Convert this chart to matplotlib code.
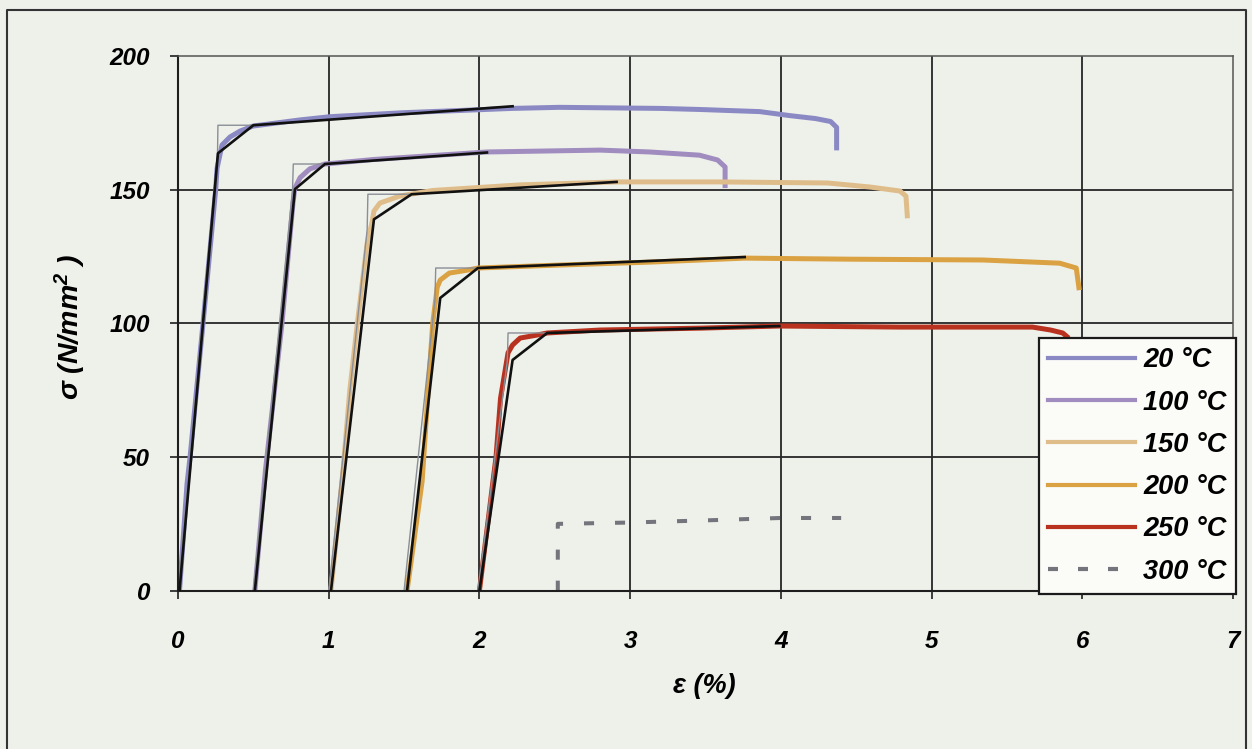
import matplotlib
matplotlib.use("Agg")
import matplotlib.pyplot as plt
from matplotlib.lines import Line2D

plt.rcParams["mathtext.fontset"] = "custom"
plt.rcParams["mathtext.rm"] = "Liberation Sans:bold:italic"
plt.rcParams["mathtext.it"] = "Liberation Sans:bold:italic"
plt.rcParams["mathtext.default"] = "rm"

# ---------------- data: strain (%) and stress (N/mm^2) ----------------
temps = ["20 °C", "100 °C", "150 °C", "200 °C", "250 °C", "300 °C"]

strain_20 = [0.01, 0.06, 0.08, 0.166, 0.25, 0.259, 0.292, 0.345, 0.411, 0.498, 0.81, 1.01,
             1.5, 2.22, 2.53, 3.2, 3.46, 3.86, 4.06, 4.23, 4.33, 4.37, 4.37, 4.37]
stress_20 = [0, 40, 50, 100, 150, 158, 166.7, 169.7, 171.9, 173.8, 176.1, 177.3,
             178.8, 180.4, 180.8, 180.4, 180.0, 179.2, 177.7, 176.6, 175.5, 173.3, 169.9, 164.7]

strain_100 = [0.51, 0.58, 0.69, 0.763, 0.775, 0.81, 0.875, 0.975, 1.3, 1.7, 2.05, 2.8,
              3.13, 3.46, 3.58, 3.63, 3.63]
stress_100 = [0, 45, 100, 145, 150.5, 154.5, 157.8, 159.6, 161.3, 162.8, 164.1, 164.8,
              164.1, 162.9, 161.1, 158.5, 150.6]

strain_150 = [1.015, 1.095, 1.14, 1.19, 1.255, 1.29, 1.30, 1.34, 1.47, 1.69, 2.27, 2.91,
              3.6, 4.31, 4.59, 4.79, 4.83, 4.84]
stress_150 = [0, 45, 75, 100, 130, 138.5, 142, 145, 147.6, 149.7, 151.8, 152.9,
              152.9, 152.5, 151.0, 149.5, 147.6, 139.3]

strain_200 = [1.52, 1.62, 1.66, 1.69, 1.72, 1.74, 1.80, 1.92, 1.99, 2.53, 3.13, 3.76,
              4.46, 5.34, 5.85, 5.96, 5.98]
stress_200 = [0, 41, 75, 100, 113.5, 116.2, 118.8, 119.9, 120.7, 121.8, 122.9, 124.4,
              124.0, 123.7, 122.5, 120.7, 112.4]

strain_250 = [2.0, 2.09, 2.11, 2.14, 2.19, 2.22, 2.27, 2.38, 2.45, 2.8, 3.46, 3.99,
              4.79, 5.67, 5.79, 5.87, 5.91]
stress_250 = [0, 41, 50, 72, 89, 91.9, 94.5, 95.6, 96.4, 97.5, 98.2, 99.0,
              98.6, 98.6, 97.5, 96.4, 94.5]

strain_300 = [2.52, 2.52, 3.0, 3.5, 4.0, 4.4]
stress_300 = [0, 25.0, 25.5, 26.3, 27.2, 27.2]

# trilinear model (black)
model_strain_20 = [0.01, 0.265, 0.50, 2.22]
model_stress_20 = [0, 163.6, 174.1, 181.2]
model_strain_100 = [0.51, 0.776, 0.975, 2.05]
model_stress_100 = [0, 150.2, 159.6, 163.9]
model_strain_150 = [1.015, 1.30, 1.55, 2.91]
model_stress_150 = [0, 138.9, 148.3, 152.9]
model_strain_200 = [1.52, 1.74, 1.99, 3.76]
model_stress_200 = [0, 109.5, 120.7, 124.8]
model_strain_250 = [2.0, 2.22, 2.45, 3.99]
model_stress_250 = [0, 86.3, 96.4, 99.0]

# elastic - perfectly plastic model (thin grey)
ep_strain_20 = [0.0, 0.262, 0.265, 0.50]
ep_stress_20 = [0, 163, 174.1, 174.1]
ep_strain_100 = [0.50, 0.76, 0.765, 0.975]
ep_stress_100 = [0, 150, 159.6, 159.6]
ep_strain_150 = [1.0, 1.255, 1.26, 1.55]
ep_stress_150 = [0, 135, 148.3, 148.3]
ep_strain_200 = [1.50, 1.705, 1.71, 1.99]
ep_stress_200 = [0, 109, 120.7, 120.7]
ep_strain_250 = [1.99, 2.185, 2.19, 2.45]
ep_stress_250 = [0, 86, 96.4, 96.4]

x_ticks = [0, 1, 2, 3, 4, 5, 6, 7]
y_ticks = [0, 50, 100, 150, 200]

colors = ["#8b89c4", "#a08cbf", "#dfbd8b", "#dba243", "#b8321f", "#74747c"]

# ---------------- figure ----------------
bg = "#eef1ea"
W, H = 1252, 749
fig = plt.figure(figsize=(W / 100, H / 100), dpi=100, facecolor=bg)


def fx(px):
    return px / W


def fy(py):
    return 1 - py / H


ax = fig.add_axes([fx(178), fy(590.7), fx(1233) - fx(178), fy(56) - fy(590.7)])
ax.set_facecolor(bg)
ax.set_xlim(0, 7)
ax.set_ylim(0, 200)

font = dict(family="Liberation Sans", weight="bold", style="italic")

# grid
for xv in x_ticks[1:-1]:
    ax.axvline(xv, color="#262626", lw=1.3, zorder=1)
for yv in y_ticks[1:-1]:
    ax.axhline(yv, color="#262626", lw=1.3, zorder=1)

data = [(strain_20, stress_20), (strain_100, stress_100), (strain_150, stress_150),
        (strain_200, stress_200), (strain_250, stress_250)]
for (xs, ys), c in zip(data, colors[:5]):
    ax.plot(xs, ys, color=c, lw=3.6, solid_joinstyle="round", solid_capstyle="butt",
            zorder=2, clip_on=False)

ax.plot(strain_300, stress_300, color=colors[5], lw=2.9, linestyle=(0, (2.5, 5.2)),
        dash_capstyle="butt", zorder=2)

eps_lines = [(ep_strain_20, ep_stress_20), (ep_strain_100, ep_stress_100),
             (ep_strain_150, ep_stress_150), (ep_strain_200, ep_stress_200),
             (ep_strain_250, ep_stress_250)]
for xs, ys in eps_lines:
    ax.plot(xs, ys, color="#8a8e96", lw=1.0, zorder=2.5)

models = [(model_strain_20, model_stress_20), (model_strain_100, model_stress_100),
          (model_strain_150, model_stress_150), (model_strain_200, model_stress_200),
          (model_strain_250, model_stress_250)]
for xs, ys in models:
    ax.plot(xs, ys, color="#111111", lw=1.9, zorder=3, solid_joinstyle="round")

# axes styling
for side in ["left", "bottom"]:
    ax.spines[side].set_color("#1e1e1e")
    ax.spines[side].set_linewidth(1.5)
for side in ["top", "right"]:
    ax.spines[side].set_color("#555555")
    ax.spines[side].set_linewidth(1.1)

ax.set_xticks(x_ticks)
ax.set_yticks(y_ticks)
ax.set_xticklabels([str(v) for v in x_ticks], fontsize=17.5, **font)
ax.set_yticklabels([str(v) for v in y_ticks], fontsize=17.5, **font)
ax.tick_params(axis="both", direction="out", length=6, width=1.2, color="#1e1e1e")
ax.tick_params(axis="x", pad=22)
ax.tick_params(axis="y", pad=14)

fig.text(fx(704), fy(686), "ε (%)", ha="center", va="center", fontsize=19.5, **font)
fig.text(fx(70), fy(327), "σ (N/mm$^{2}$ )", ha="center", va="center", rotation=90,
         fontsize=20.5, **font)

# legend
handles = [Line2D([], [], color=c, lw=3.0) for c in colors[:5]]
handles.append(Line2D([], [], color=colors[5], lw=3.0, linestyle=(0, (2.4, 4.8)),
                      dash_capstyle="butt"))
leg = ax.legend(handles, temps, loc="lower right",
                bbox_to_anchor=(fx(1236), fy(594)), bbox_transform=fig.transFigure,
                borderaxespad=0, prop=dict(size=19.5, **font), handlelength=3.2,
                handletextpad=0.3, labelspacing=0.6, borderpad=0.35,
                frameon=True, fancybox=False, framealpha=1)
leg.get_frame().set_edgecolor("#1a1a1a")
leg.get_frame().set_linewidth(1.6)
leg.get_frame().set_facecolor("#fbfbf8")
leg.set_zorder(5)

# page frame around the figure
fig.add_artist(Line2D([fx(7), fx(7), fx(1246), fx(1246)], [0, fy(10), fy(10), 0],
                      transform=fig.transFigure, color="#333333", lw=1.5))

fig.savefig("out.png", dpi=100, facecolor=bg)
